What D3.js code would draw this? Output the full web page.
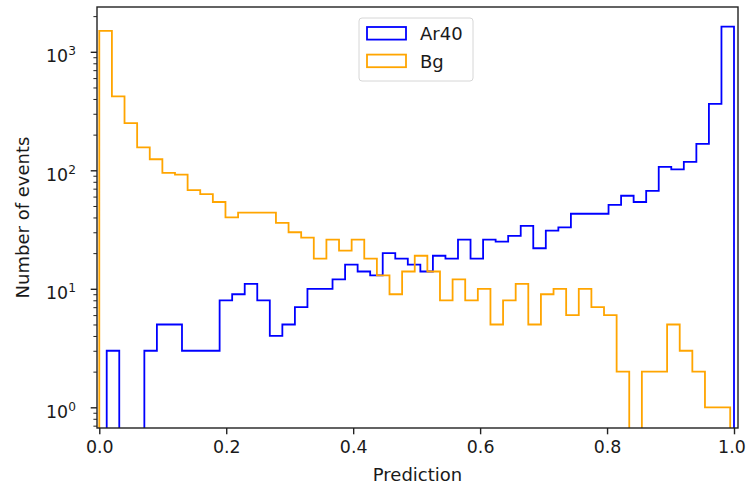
<!DOCTYPE html>
<html>
<head>
<meta charset="utf-8">
<script src="https://cdn.jsdelivr.net/npm/d3@7"></script>
<style>
  body { margin: 0; background: #fff; }
  svg { display: block; }
  text { font-family: "DejaVu Sans", sans-serif; fill: #1a1a1a; }
</style>
</head>
<body>
<svg id="chart" width="746" height="487"></svg>
<script>
// Histogram counts per bin (50 bins each), classifier output for signal and background
const ar40Counts = [3, 0, 0, 3, 5, 5, 3, 3, 3, 8,
                    9, 11, 8, 4, 5, 7, 10, 10, 12, 16,
                    14, 13, 20, 18, 16, 14, 19, 18, 26, 18,
                    26, 25, 28, 34, 22, 31, 33, 43, 43, 43,
                    51, 61, 54, 67, 107, 102, 118, 167, 363, 1630];
const bgCounts = [1500, 420, 250, 156, 124, 95, 92, 68, 63, 54,
                  40, 44, 44, 44, 36, 30, 27, 18, 26, 21,
                  26, 18, 13, 9, 14, 19, 14, 8, 12, 8,
                  10, 5, 8, 11, 5, 9, 10, 6, 10, 7,
                  6, 2, 0, 2, 2, 5, 3, 2, 1, 1];
// Each histogram spans its own sample's min..max prediction
const ar40Range = [0.0117, 1.0];
const bgRange = [0.0, 0.994];

const seriesNames = ["Ar40", "Bg"];
const seriesColors = ["blue", "orange"];

const xTicks = [0, 0.2, 0.4, 0.6, 0.8, 1.0];
const xTickLabels = ["0.0", "0.2", "0.4", "0.6", "0.8", "1.0"];
const yTickExponents = [0, 1, 2, 3];
const xLabel = "Prediction";
const yLabel = "Number of events";

const W = 746, H = 487;
const plot = { left: 97, right: 738, top: 7, bottom: 428 };
const fontSize = 18;
const tickFontSize = 17.4;
const tickMajor = 6.3, tickMinor = 3.6, tickPad = 6.3;
const axisColor = "#222";

const svg = d3.select("#chart");

const x = d3.scaleLinear().domain([-0.0036, 1.0063]).range([plot.left, plot.right]);
const y = d3.scaleLog().domain([0.669, 2388]).range([plot.bottom, plot.top]);

svg.append("defs").append("clipPath").attr("id", "plotClip")
  .append("rect")
  .attr("x", plot.left).attr("y", plot.top)
  .attr("width", plot.right - plot.left).attr("height", plot.bottom - plot.top);

// Step outline of a histogram; empty bins drop below the log axis floor
function stepPoints(counts, range) {
  const n = counts.length;
  const w = (range[1] - range[0]) / n;
  const floor = 1e-3;
  const pts = [[range[0], floor]];
  counts.forEach((c, i) => {
    const v = c > 0 ? c : floor;
    pts.push([range[0] + i * w, v]);
    pts.push([range[0] + (i + 1) * w, v]);
  });
  pts.push([range[1], floor]);
  return pts;
}

const line = d3.line().x(d => x(d[0])).y(d => y(d[1]));

const series = [
  { name: seriesNames[0], color: seriesColors[0], counts: ar40Counts, range: ar40Range },
  { name: seriesNames[1], color: seriesColors[1], counts: bgCounts, range: bgRange }
];

const plotG = svg.append("g").attr("clip-path", "url(#plotClip)");
series.forEach(s => {
  plotG.append("path")
    .attr("d", line(stepPoints(s.counts, s.range)))
    .attr("fill", "none")
    .attr("stroke", s.color)
    .attr("stroke-width", 1.8)
    .attr("stroke-linejoin", "miter");
});

// X axis
const xAxis = d3.axisBottom(x)
  .tickValues(xTicks)
  .tickFormat((d, i) => xTickLabels[i])
  .tickSize(tickMajor).tickPadding(tickPad).tickSizeOuter(0);
const gx = svg.append("g").attr("transform", `translate(0,${plot.bottom})`).call(xAxis);
gx.select(".domain").remove();
gx.selectAll(".tick line").attr("stroke", axisColor).attr("stroke-width", 1.4);
gx.selectAll(".tick text").attr("font-size", tickFontSize).attr("fill", "#1a1a1a");
// keep the last label inside the page edge
gx.selectAll(".tick text").filter((d, i, n) => i === n.length - 1).attr("dx", -2.6);

// Y axis: minor ticks
const [y0, y1] = y.domain();
const minorTicks = [];
for (let e = -1; e <= 4; e++) {
  for (let m = 2; m <= 9; m++) {
    const v = m * Math.pow(10, e);
    if (v >= y0 && v <= y1) minorTicks.push(v);
  }
}
const gyMinor = svg.append("g").attr("transform", `translate(${plot.left},0)`)
  .call(d3.axisLeft(y).tickValues(minorTicks).tickFormat("").tickSize(tickMinor).tickSizeOuter(0));
gyMinor.select(".domain").remove();
gyMinor.selectAll(".tick line").attr("stroke", axisColor).attr("stroke-width", 1.0);

// Y axis: major ticks with power-of-ten labels
const majorTicks = yTickExponents.map(e => Math.pow(10, e));
const gy = svg.append("g").attr("transform", `translate(${plot.left},0)`)
  .call(d3.axisLeft(y).tickValues(majorTicks).tickFormat("").tickSize(tickMajor).tickSizeOuter(0));
gy.select(".domain").remove();
gy.selectAll(".tick line").attr("stroke", axisColor).attr("stroke-width", 1.4);
gy.selectAll(".tick").each(function(d, i) {
  const t = d3.select(this).append("text")
    .attr("x", -(tickMajor + tickPad + 8.5))
    .attr("y", 10)
    .attr("text-anchor", "end")
    .attr("font-size", tickFontSize)
    .attr("fill", "#1a1a1a");
  t.append("tspan").text("10");
  t.append("tspan").attr("font-size", tickFontSize * 0.7).attr("dy", -7).text(String(yTickExponents[i]));
});

// Frame
svg.append("rect")
  .attr("x", plot.left).attr("y", plot.top)
  .attr("width", plot.right - plot.left).attr("height", plot.bottom - plot.top)
  .attr("fill", "none").attr("stroke", axisColor).attr("stroke-width", 1.4);

// Axis labels
svg.append("text")
  .attr("x", (plot.left + plot.right) / 2).attr("y", 481)
  .attr("text-anchor", "middle").attr("font-size", fontSize)
  .text(xLabel);
svg.append("text")
  .attr("transform", `translate(29,${(plot.top + plot.bottom) / 2}) rotate(-90)`)
  .attr("text-anchor", "middle").attr("font-size", fontSize)
  .text(yLabel);

// Legend
const legend = svg.append("g").attr("transform", "translate(359,18)");
legend.append("rect")
  .attr("width", 114).attr("height", 63).attr("rx", 3)
  .attr("fill", "#fff").attr("fill-opacity", 0.8)
  .attr("stroke", "#d6d6d6").attr("stroke-width", 1);
series.forEach((s, i) => {
  const row = legend.append("g").attr("transform", `translate(8,${9 + i * 27.6})`);
  row.append("rect")
    .attr("width", 39).attr("height", 12.6)
    .attr("fill", "none").attr("stroke", s.color).attr("stroke-width", 1.8);
  row.append("text")
    .attr("x", 53).attr("y", 13)
    .attr("font-size", fontSize)
    .text(s.name);
});
</script>
</body>
</html>
